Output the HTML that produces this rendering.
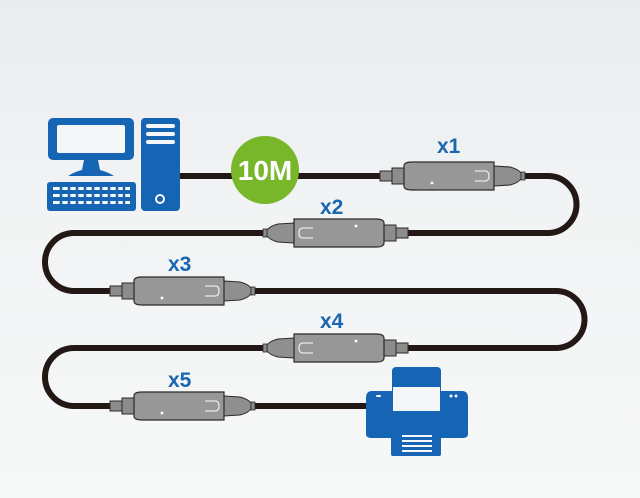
<!DOCTYPE html>
<html><head><style>
html,body{margin:0;padding:0;}
body{width:640px;height:498px;overflow:hidden;background:linear-gradient(#e9ecef 0%,#f1f3f4 40%,#f7f8f8 100%);}
svg{display:block}
.lb{font-family:"Liberation Sans",sans-serif;font-weight:bold;font-size:21px;fill:#1b66b0;}
</style></head><body>
<svg width="640" height="498" viewBox="0 0 640 498" xmlns="http://www.w3.org/2000/svg">
<defs>
<g id="rep">
  <rect x="0" y="-5" width="12" height="10" fill="#8c8c8c" stroke="#2a2a2a" stroke-width="1"/>
  <rect x="12" y="-8" width="12" height="16" fill="#8c8c8c" stroke="#2a2a2a" stroke-width="1"/>
  <path d="M114,-10 L130,-9 Q138,-7 141,-3 L141,3 Q138,7 130,9 L114,10 Z" fill="#8f8f8f" stroke="#2a2a2a" stroke-width="1"/>
  <rect x="141" y="-4" width="4" height="8" fill="#8c8c8c" stroke="#2a2a2a" stroke-width="0.8"/>
  <path d="M24,-10 Q24,-14 32,-14 L114,-14 L114,14 L32,14 Q24,14 24,10 Z" fill="#979797" stroke="#2a2a2a" stroke-width="1.2"/>
  <path d="M95,-5 H105 Q109,-5 109,0 Q109,5 105,5 H95" fill="none" stroke="#e8e8e8" stroke-width="1.3"/>
  <circle cx="52" cy="7" r="1.4" fill="#fff"/>
</g>
</defs>
<path d="M180,176 H548 A28.5,28.5 0 0 1 548,233 H74 A29,29 0 0 0 74,291 H556 A28.5,28.5 0 0 1 556,348 H74 A29,29 0 0 0 74,406 H372" fill="none" stroke="#231815" stroke-width="6"/>
<use href="#rep" transform="translate(380,176)"/>
<use href="#rep" transform="translate(408,233) scale(-1,-1)"/>
<use href="#rep" transform="translate(110,291)"/>
<use href="#rep" transform="translate(408,348) scale(-1,-1)"/>
<use href="#rep" transform="translate(110,406)"/>
<text class="lb" x="437" y="153">x1</text>
<text class="lb" x="320" y="214">x2</text>
<text class="lb" x="168" y="271">x3</text>
<text class="lb" x="320" y="328">x4</text>
<text class="lb" x="168" y="387">x5</text>
<circle cx="265" cy="170" r="34" fill="#78b62a"/>
<text x="265" y="180" text-anchor="middle" font-family="Liberation Sans,sans-serif" font-weight="bold" font-size="28" fill="#fff">10M</text>
<rect x="48" y="118" width="86" height="42" rx="5" fill="#1565b4"/>
<rect x="57" y="125" width="68" height="28" rx="2" fill="#f4f6f8"/>
<path d="M84,160 L98,160 L100,170 Q108,172 114,176 L68,176 Q74,172 82,170 Z" fill="#1565b4"/>
<rect x="47" y="182" width="89" height="29" rx="3" fill="#1565b4"/>
<g fill="#f4f6f8">
  <rect x="53" y="187" width="77" height="3"/>
  <rect x="53" y="194" width="77" height="3"/>
  <rect x="53" y="201" width="77" height="3"/>
</g>
<g stroke="#1565b4" stroke-width="2.5">
  <path d="M61,186 V206 M69,186 V206 M77,186 V206 M85,186 V206 M93,186 V206 M101,186 V206 M109,186 V206 M117,186 V206 M124,186 V206"/>
</g>
<rect x="141" y="118" width="39" height="93" rx="4" fill="#1565b4"/>
<rect x="146" y="124" width="29" height="4" rx="2" fill="#f4f6f8"/>
<rect x="146" y="132" width="29" height="4" rx="2" fill="#f4f6f8"/>
<rect x="146" y="140" width="29" height="4" rx="2" fill="#f4f6f8"/>
<circle cx="160" cy="199" r="4" fill="none" stroke="#f4f6f8" stroke-width="2"/>
<rect x="392" y="367" width="49" height="40" rx="4" fill="#1565b4"/>
<path d="M372,391 H462 Q468,391 468,398 V434 Q468,438 462,438 H372 Q366,438 366,434 V398 Q366,391 372,391 Z" fill="#1565b4"/>
<rect x="393" y="387" width="47" height="24" fill="#f4f6f8"/>
<rect x="391" y="430" width="50" height="26" rx="2" fill="#1565b4"/>
<g fill="#f4f6f8">
  <rect x="402" y="435" width="30" height="2"/>
  <rect x="402" y="440" width="30" height="2"/>
  <rect x="402" y="445" width="30" height="2"/>
  <rect x="402" y="450" width="30" height="2"/>
</g>
<rect x="376" y="395" width="5" height="2" rx="1" fill="#f4f6f8"/>
<circle cx="451" cy="396" r="1.5" fill="#f4f6f8"/>
<circle cx="456" cy="396" r="1.5" fill="#f4f6f8"/>
</svg>
</body></html>
